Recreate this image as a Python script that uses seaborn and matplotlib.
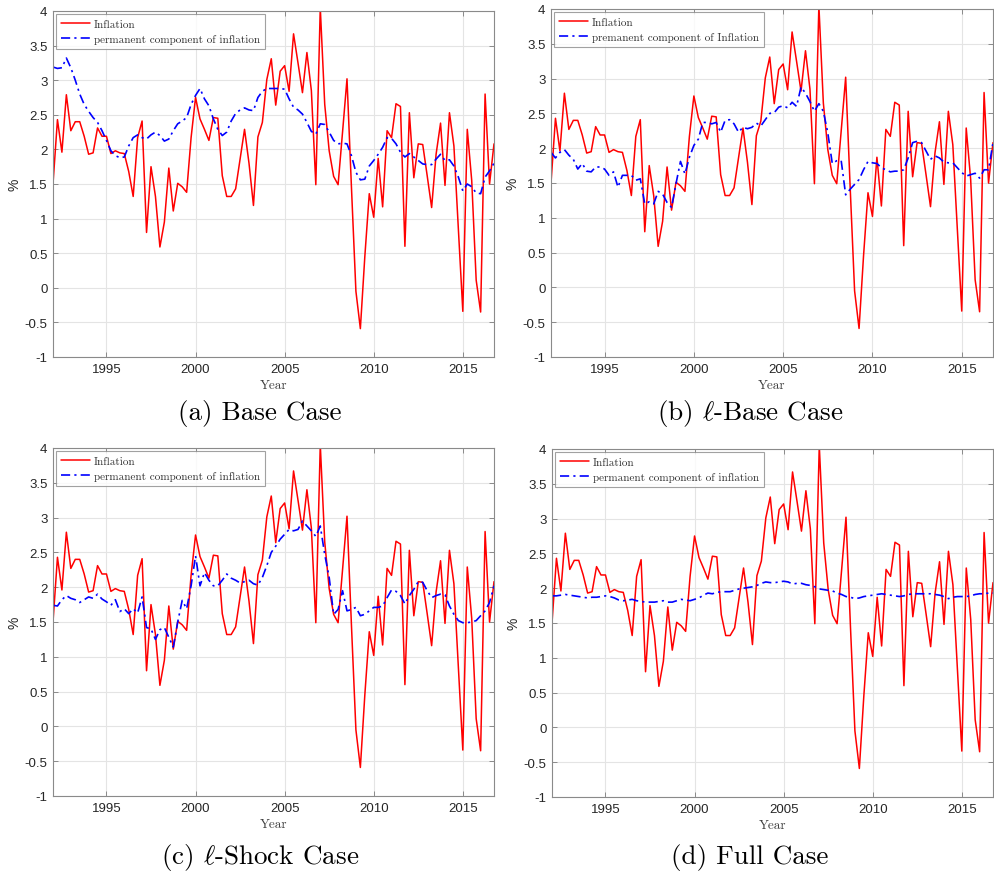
import matplotlib
matplotlib.use("Agg")
import matplotlib.pyplot as plt
import seaborn as sns
import pandas as pd

# Quarterly observations, 1992Q1 - 2016Q4
first_year = 1992
n_quarters = 100
quarter_years = [first_year + q / 4 for q in range(n_quarters)]

inflation = [
    1.50, 2.43, 1.96, 2.79, 2.27, 2.40, 2.40, 2.19, 1.93, 1.95, 2.31, 2.19,
    2.19, 1.94, 1.98, 1.95, 1.94, 1.68, 1.32, 2.17, 2.41, 0.80, 1.75, 1.32,
    0.59, 0.95, 1.73, 1.11, 1.51, 1.46, 1.38, 2.17, 2.75, 2.44, 2.29, 2.13,
    2.46, 2.45, 1.62, 1.32, 1.32, 1.43, 1.86, 2.29, 1.80, 1.19, 2.18, 2.39,
    3.01, 3.31, 2.64, 3.13, 3.21, 2.84, 3.67, 3.25, 2.82, 3.40, 2.85, 1.49,
    4.05, 2.65, 1.98, 1.61, 1.49, 2.25, 3.02, 1.45, -0.05, -0.59, 0.45, 1.36,
    1.02, 1.87, 1.17, 2.27, 2.17, 2.66, 2.62, 0.60, 2.53, 1.59, 2.08, 2.07,
    1.62, 1.16, 1.93, 2.38, 1.48, 2.53, 2.05, 0.85, -0.34, 2.29, 1.55, 0.11,
    -0.35, 2.80, 1.50, 2.08,
]

perm_base = [
    3.19, 3.17, 3.18, 3.32, 3.18, 3.00, 2.80, 2.65, 2.55, 2.46, 2.39, 2.27,
    2.13, 1.98, 1.91, 1.88, 1.89, 2.05, 2.17, 2.21, 2.17, 2.15, 2.21, 2.25,
    2.20, 2.12, 2.15, 2.27, 2.37, 2.41, 2.46, 2.65, 2.78, 2.88, 2.73, 2.63,
    2.44, 2.29, 2.20, 2.25, 2.41, 2.52, 2.57, 2.60, 2.57, 2.56, 2.75, 2.84,
    2.88, 2.88, 2.88, 2.88, 2.87, 2.73, 2.61, 2.57, 2.51, 2.39, 2.26, 2.22,
    2.37, 2.36, 2.25, 2.13, 2.08, 2.09, 2.08, 1.91, 1.67, 1.56, 1.57, 1.76,
    1.84, 1.93, 2.03, 2.17, 2.16, 2.08, 1.96, 1.89, 1.94, 1.89, 1.84, 1.79,
    1.78, 1.78, 1.86, 1.93, 1.84, 1.85, 1.76, 1.60, 1.40, 1.50, 1.46, 1.37,
    1.36, 1.60, 1.69, 1.80,
]

perm_l_base = [
    1.94, 1.86, 1.94, 1.98, 1.90, 1.84, 1.70, 1.78, 1.67, 1.66, 1.73, 1.73,
    1.70, 1.61, 1.66, 1.44, 1.61, 1.61, 1.61, 1.54, 1.56, 1.20, 1.23, 1.20,
    1.38, 1.34, 1.22, 1.15, 1.49, 1.81, 1.63, 1.87, 2.04, 2.13, 2.37, 2.37,
    2.35, 2.37, 2.23, 2.40, 2.41, 2.35, 2.23, 2.30, 2.28, 2.30, 2.36, 2.32,
    2.41, 2.50, 2.51, 2.59, 2.61, 2.58, 2.66, 2.60, 2.88, 2.79, 2.67, 2.53,
    2.64, 2.53, 2.22, 1.78, 1.82, 1.82, 1.33, 1.41, 1.48, 1.55, 1.69, 1.81,
    1.79, 1.78, 1.72, 1.69, 1.66, 1.67, 1.67, 1.69, 1.86, 2.08, 2.10, 2.08,
    1.96, 1.84, 1.89, 1.86, 1.80, 1.79, 1.79, 1.72, 1.65, 1.60, 1.62, 1.64,
    1.57, 1.69, 1.69, 2.08,
]

perm_l_shock = [
    1.74, 1.73, 1.82, 1.88, 1.84, 1.82, 1.78, 1.82, 1.86, 1.84, 1.90, 1.83,
    1.79, 1.74, 1.82, 1.65, 1.69, 1.62, 1.69, 1.63, 1.86, 1.42, 1.40, 1.25,
    1.39, 1.42, 1.28, 1.14, 1.50, 1.81, 1.69, 2.02, 2.45, 2.02, 2.21, 2.10,
    2.02, 2.02, 2.10, 2.19, 2.13, 2.10, 2.06, 2.08, 2.10, 2.05, 2.03, 2.14,
    2.31, 2.50, 2.59, 2.69, 2.76, 2.83, 2.81, 2.83, 2.95, 2.88, 2.81, 2.73,
    2.88, 2.47, 2.14, 1.61, 1.68, 1.95, 1.66, 1.68, 1.71, 1.59, 1.61, 1.66,
    1.71, 1.71, 1.73, 1.85, 1.96, 1.94, 1.88, 1.76, 1.88, 1.97, 2.08, 2.07,
    1.95, 1.85, 1.88, 1.90, 1.89, 1.73, 1.61, 1.52, 1.49, 1.49, 1.50, 1.52,
    1.59, 1.66, 1.78, 2.02,
]

perm_full = [
    1.89, 1.89, 1.90, 1.91, 1.90, 1.89, 1.88, 1.87, 1.86, 1.87, 1.87, 1.88,
    1.89, 1.88, 1.86, 1.83, 1.82, 1.83, 1.84, 1.82, 1.81, 1.80, 1.80, 1.80,
    1.81, 1.82, 1.80, 1.80, 1.82, 1.84, 1.83, 1.82, 1.84, 1.86, 1.90, 1.93,
    1.92, 1.94, 1.95, 1.95, 1.95, 1.97, 1.99, 2.00, 2.01, 2.02, 2.04, 2.07,
    2.09, 2.08, 2.08, 2.09, 2.10, 2.09, 2.06, 2.07, 2.07, 2.05, 2.04, 2.02,
    1.99, 1.98, 1.97, 1.96, 1.93, 1.91, 1.88, 1.87, 1.85, 1.86, 1.88, 1.89,
    1.90, 1.91, 1.92, 1.91, 1.90, 1.89, 1.88, 1.89, 1.91, 1.92, 1.92, 1.92,
    1.92, 1.92, 1.91, 1.90, 1.88, 1.85, 1.87, 1.88, 1.88, 1.88, 1.89, 1.91,
    1.92, 1.92, 1.93, 1.93,
]

panel_series = [perm_base, perm_l_base, perm_l_shock, perm_full]
panel_legend = [
    "permanent component of inflation",
    "premanent component of Inflation",
    "permanent component of inflation",
    "permanent component of inflation",
]
panel_caption = [
    "(a) Base Case",
    r"(b) $\ell$-Base Case",
    r"(c) $\ell$-Shock Case",
    "(d) Full Case",
]

x_ticks = [1995, 2000, 2005, 2010, 2015]
y_ticks = [-1, -0.5, 0, 0.5, 1, 1.5, 2, 2.5, 3, 3.5, 4]
y_tick_labels = ["-1", "-0.5", "0", "0.5", "1", "1.5", "2", "2.5", "3", "3.5", "4"]

sns.set_theme(style="whitegrid")
plt.rcParams["font.family"] = ["Liberation Sans", "DejaVu Sans"]
plt.rcParams["mathtext.fontset"] = "cm"
plt.rcParams["axes.unicode_minus"] = False

W, H = 994, 879
fig = plt.figure(figsize=(W / 100, H / 100), dpi=100)
fig.patch.set_facecolor("white")

# axes boxes in pixels: left, top, right, bottom
boxes = [
    (53, 12, 494, 358),
    (551, 10, 993, 358),
    (53, 449, 494, 797),
    (552, 450, 993, 798),
]
caption_xy = [(260, 414), (750, 414), (260, 858), (750, 858)]

serif = "cmr10"
frame_col = "#8a8a8a"

for k in range(4):
    l, t, r, b = boxes[k]
    ax = fig.add_axes([l / W, 1 - b / H, (r - l) / W, (b - t) / H])
    df = pd.DataFrame({"Year": quarter_years,
                       "Inflation": inflation,
                       "Permanent": panel_series[k]})
    sns.lineplot(data=df, x="Year", y="Inflation", ax=ax, color="#ff0000",
                 lw=1.1, label="Inflation")
    sns.lineplot(data=df, x="Year", y="Permanent", ax=ax, color="#0000ff",
                 lw=1.2, label=panel_legend[k])
    ax.lines[-1].set_dashes([5.5, 2.5, 1.3, 2.5])

    ax.set_xlim(first_year, quarter_years[-1])
    ax.set_ylim(-1, 4)
    ax.set_xticks(x_ticks)
    ax.set_yticks(y_ticks)
    ax.set_yticklabels(y_tick_labels)
    ax.set_facecolor("white")
    ax.grid(True, color="#e4e4e4", lw=0.8)
    for sp in ax.spines.values():
        sp.set_visible(True)
        sp.set_color(frame_col)
        sp.set_linewidth(0.8)
    ax.tick_params(direction="in", length=3.5, width=0.7, color=frame_col,
                   labelsize=9.5, labelcolor="#262626",
                   top=True, right=True, bottom=True, left=True, pad=4)
    ax.set_xlabel("Year", fontfamily=serif, fontsize=9.5, color="#404040",
                  labelpad=3)
    ax.set_ylabel("%", fontsize=10, color="#262626", labelpad=2)

    leg = ax.legend(loc="upper left", frameon=True, fancybox=False,
                    prop={"family": serif, "size": 8}, handlelength=2.6,
                    handletextpad=0.4, borderpad=0.45, labelspacing=0.45,
                    borderaxespad=0.25)
    leg.get_frame().set_edgecolor("#8a8a8a")
    leg.get_frame().set_linewidth(0.8)
    for txt in leg.get_texts():
        txt.set_color("#303030")

    cx, cy = caption_xy[k]
    fig.text(cx / W, 1 - cy / H, panel_caption[k], ha="center", va="center",
             fontfamily=serif, fontsize=19.5, color="black")

fig.savefig("out.png", dpi=100, facecolor="white")
